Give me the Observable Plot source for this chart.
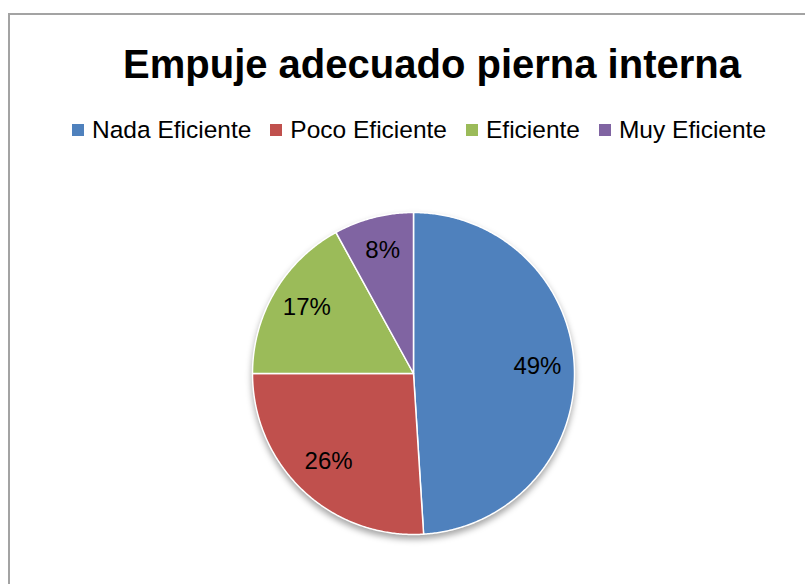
<!DOCTYPE html>
<html>
<head>
<meta charset="utf-8">
<script src="https://cdn.jsdelivr.net/npm/d3@7"></script>
<script src="https://cdn.jsdelivr.net/npm/@observablehq/plot@0.6"></script>
<style>
  html, body { margin: 0; padding: 0; background: #fff; width: 805px; height: 584px; overflow: hidden; }
  #frame { position: absolute; left: 8px; top: 13px; width: 900px; height: 700px;
           border-left: 2px solid #a3a3a3; border-top: 2px solid #a3a3a3; }
  #title { position: absolute; left: 0; width: 864px; top: 36px; text-align: center;
           font-family: "Liberation Sans", Arial, sans-serif; font-weight: bold; font-size: 40px;
           color: #000; line-height: 56px; white-space: nowrap; }
  #legend { position: absolute; left: 72px; top: 116px; display: flex; align-items: center;
            font-family: "Liberation Sans", Arial, sans-serif; font-size: 24.5px; color: #000; line-height: 28px; }
  .item { display: flex; align-items: center; margin-right: 19px; }
  .sw { width: 12px; height: 12px; margin-right: 8px; }
  #chart { position: absolute; left: 0; top: 160px; }
  #chart g[aria-label="line"] { filter: drop-shadow(0px 4px 3px rgba(0,0,0,0.35)); }
</style>
</head>
<body>
<div id="frame"></div>
<div id="title"></div>
<div id="legend"></div>
<div id="chart"></div>
<script>
const titleText = "Empuje adecuado pierna interna";
const categories = ["Nada Eficiente", "Poco Eficiente", "Eficiente", "Muy Eficiente"];
const values = [49, 26, 17, 8];
const labels = ["49%", "26%", "17%", "8%"];
const colors = ["#4F81BD", "#C0504D", "#9BBB59", "#8064A2"];

document.getElementById("title").textContent = titleText;

const legend = document.getElementById("legend");
categories.forEach((c, i) => {
  const it = document.createElement("div");
  it.className = "item";
  const sw = document.createElement("div");
  sw.className = "sw";
  sw.style.background = colors[i];
  const tx = document.createElement("span");
  tx.textContent = c;
  it.appendChild(sw); it.appendChild(tx);
  legend.appendChild(it);
});

const data = categories.map((c, i) => ({category: c, value: values[i], label: labels[i]}));
const arcs = d3.pie().sort(null).value(d => d.value).startAngle(0).endAngle(2 * Math.PI)(data);

// polygon outline of each slice in unit-radius coordinates (y up)
const poly = [];
arcs.forEach(a => {
  poly.push({category: a.data.category, x: 0, y: 0});
  const n = Math.max(2, Math.ceil((a.endAngle - a.startAngle) / (Math.PI / 360)));
  for (let k = 0; k <= n; k++) {
    const t = a.startAngle + (a.endAngle - a.startAngle) * k / n;
    poly.push({category: a.data.category, x: Math.sin(t), y: Math.cos(t)});
  }
});

const labelRadius = 0.77;
const labelData = arcs.map(a => {
  const m = (a.startAngle + a.endAngle) / 2;
  return {label: a.data.label, x: labelRadius * Math.sin(m), y: labelRadius * Math.cos(m)};
});

const chart = Plot.plot({
  width: 805,
  height: 424,
  marginLeft: 252,
  marginRight: 231,
  marginTop: 52,
  marginBottom: 50,
  x: {domain: [-1, 1], axis: null},
  y: {domain: [-1, 1], axis: null},
  color: {type: "ordinal", domain: categories, range: colors},
  style: {background: "transparent", overflow: "visible"},
  marks: [
    Plot.line(poly, {x: "x", y: "y", z: "category", fill: "category", stroke: "white", strokeWidth: 1.5, curve: "linear-closed", strokeLinejoin: "round"}),
    Plot.text(labelData, {x: "x", y: "y", text: "label", dy: -3, fontSize: 24, fill: "black", fontFamily: "Liberation Sans, Arial, sans-serif"})
  ]
});
document.getElementById("chart").appendChild(chart);
</script>
</body>
</html>
